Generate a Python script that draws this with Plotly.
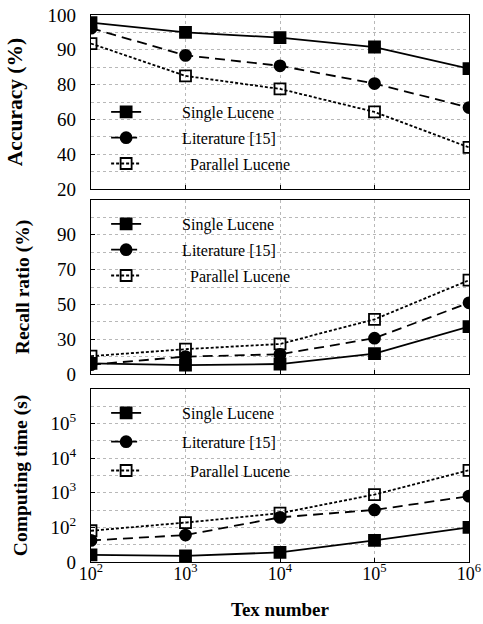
import numpy as np
import plotly.graph_objects as go

# ---- data ----
tex_number = [1e2, 1e3, 1e4, 1e5, 1e6]
series_names = ["Single Lucene", "Literature [15]", "Parallel Lucene"]

accuracy_single = [97.8, 95.0, 93.5, 90.8, 84.6]
accuracy_lit = [96.2, 88.4, 85.4, 80.3, 66.8]
accuracy_par = [91.8, 82.5, 77.5, 64.3, 43.9]

recall_single = [9.2, 7.7, 8.6, 17.5, 37.2]
recall_lit = [8.0, 15.0, 17.0, 30.6, 50.9]
recall_par = [15.4, 21.4, 25.9, 41.4, 63.9]

time_single = [16, 15, 19, 42, 100]
time_lit = [42, 60, 195, 320, 800]
time_par = [80, 138, 257, 890, 4470]

acc_ticks = [20, 40, 60, 80, 90, 100]
acc_ticklabels = ["20", "40", "60", "80", "90", "100"]
rec_ticks = [0, 30, 50, 70, 90, 110]
rec_ticklabels = ["0", "30", "50", "70", "90", ""]
time_ticks = [10, 1e2, 1e3, 1e4, 1e5]
time_ticklabels = ["0", "10<sup>2</sup>", "10<sup>3</sup>", "10<sup>4</sup>", "10<sup>5</sup>"]
x_ticklabels = ["10<sup>2</sup>", "10<sup>3</sup>", "10<sup>4</sup>", "10<sup>5</sup>", "10<sup>6</sup>"]

# piecewise scale: each labelled tick is one unit apart
def acc_scale(v):
    return np.interp(v, acc_ticks, np.arange(len(acc_ticks)))

def rec_scale(v):
    return np.interp(v, rec_ticks, np.arange(len(rec_ticks)))

FONT = "Liberation Serif, Times New Roman, serif"
NB = "\u00a0"
styles = [
    dict(dash="solid", symbol="square", pad=9),
    dict(dash="10px,6px", symbol="circle", pad=9),
    dict(dash="3px,2px", symbol="square-open", pad=11),
]

fig = go.Figure()

panels = [
    ("y", "legend", [acc_scale(accuracy_single), acc_scale(accuracy_lit), acc_scale(accuracy_par)]),
    ("y2", "legend2", [rec_scale(recall_single), rec_scale(recall_lit), rec_scale(recall_par)]),
    ("y3", "legend3", [time_single, time_lit, time_par]),
]

xaxis_names = ["x", "x2", "x3"]
for (yax, leg, data), xax in zip(panels, xaxis_names):
    for name, vals, st in zip(series_names, data, styles):
        fig.add_trace(go.Scatter(
            x=tex_number, y=vals, name=NB * st["pad"] + name, mode="lines+markers",
            xaxis=xax, yaxis=yax, legend=leg, legendgroup=leg + name,
            line=dict(color="black", width=1.8, dash=st["dash"]),
            marker=dict(symbol=st["symbol"], size=11, color="black",
                        line=dict(color="black", width=1.8)),
        ))

GRIDC = "#b8b8b8"
grid = dict(showgrid=True, gridcolor=GRIDC, griddash="dot", gridwidth=1)
frame = dict(showline=True, linecolor="black", linewidth=1.2, mirror=True,
             ticks="inside", ticklen=4, tickcolor="black", zeroline=False,
             ticklabeloverflow="allow")

W, H = 483, 624
T, B, L, R = 15, 62, 91, 14
PH = H - T - B

def dom(top_px, bot_px):
    return [(H - B - bot_px) / PH, (H - B - top_px) / PH]

def legy(top_px):
    return (H - B - top_px) / PH

tickf = dict(size=19, family=FONT)
xcommon = dict(type="log", range=[2, 6], tickvals=tex_number, **grid, **frame)
fig.update_layout(
    xaxis=dict(anchor="y", showticklabels=False, **xcommon),
    xaxis2=dict(anchor="y2", showticklabels=False, matches="x", **xcommon),
    xaxis3=dict(anchor="y3", ticktext=x_ticklabels, matches="x", ticklabelstandoff=-5,
                title=dict(text="<b>Tex number</b>", font=dict(size=19, family=FONT), standoff=19),
                tickfont=dict(size=18, family=FONT), **xcommon),
    yaxis=dict(domain=dom(15, 189), range=[0, 5], tickvals=list(range(len(acc_ticks))),
               ticktext=acc_ticklabels, tickfont=tickf, ticklabelstandoff=10,
               minor=dict(dtick=0.5, showgrid=True, gridcolor=GRIDC, griddash="dot", ticks=""),
               title=dict(text="<b>Accuracy (%)</b>", font=dict(size=21.5, family=FONT), standoff=19),
               **grid, **frame),
    yaxis2=dict(domain=dom(200, 374), range=[0, 5], tickvals=list(range(len(rec_ticks))),
                ticktext=rec_ticklabels, tickfont=tickf, ticklabelstandoff=10,
                minor=dict(dtick=0.5, showgrid=True, gridcolor=GRIDC, griddash="dot", ticks=""),
                title=dict(text="<b>Recall ratio (%)</b>", font=dict(size=19.5, family=FONT), standoff=22),
                **grid, **frame),
    yaxis3=dict(domain=dom(389, 562), type="log", range=[1, 6], tickvals=time_ticks,
                ticktext=time_ticklabels, tickfont=tickf, ticklabelstandoff=10,
                minor=dict(tickvals=[10 ** 1.5, 10 ** 2.5, 10 ** 3.5, 10 ** 4.5, 10 ** 5.5],
                           showgrid=True, gridcolor=GRIDC, griddash="dot", ticks=""),
                title=dict(text="<b>Computing time (s)</b>", font=dict(size=19.5, family=FONT), standoff=17),
                **grid, **frame),
)

legcommon = dict(font=dict(size=16, family=FONT, color="black"), bgcolor="rgba(0,0,0,0)",
                 traceorder="grouped", itemwidth=30, xanchor="left", yanchor="top", x=0.04)
fig.update_layout(
    legend=dict(y=legy(95), tracegroupgap=2, **legcommon),
    legend2=dict(y=legy(207), tracegroupgap=2, **legcommon),
    legend3=dict(y=legy(396), tracegroupgap=5, **legcommon),
)

fig.update_layout(
    width=W, height=H, template="plotly_white",
    paper_bgcolor="white", plot_bgcolor="white",
    margin=dict(l=L, r=R, t=T, b=B, autoexpand=False),
    font=dict(family=FONT, size=16, color="black"),
    showlegend=True,
)

fig.write_html("out.html", config={"displayModeBar": False},
               post_script="document.body.style.margin='0';document.body.style.overflow='hidden';")
